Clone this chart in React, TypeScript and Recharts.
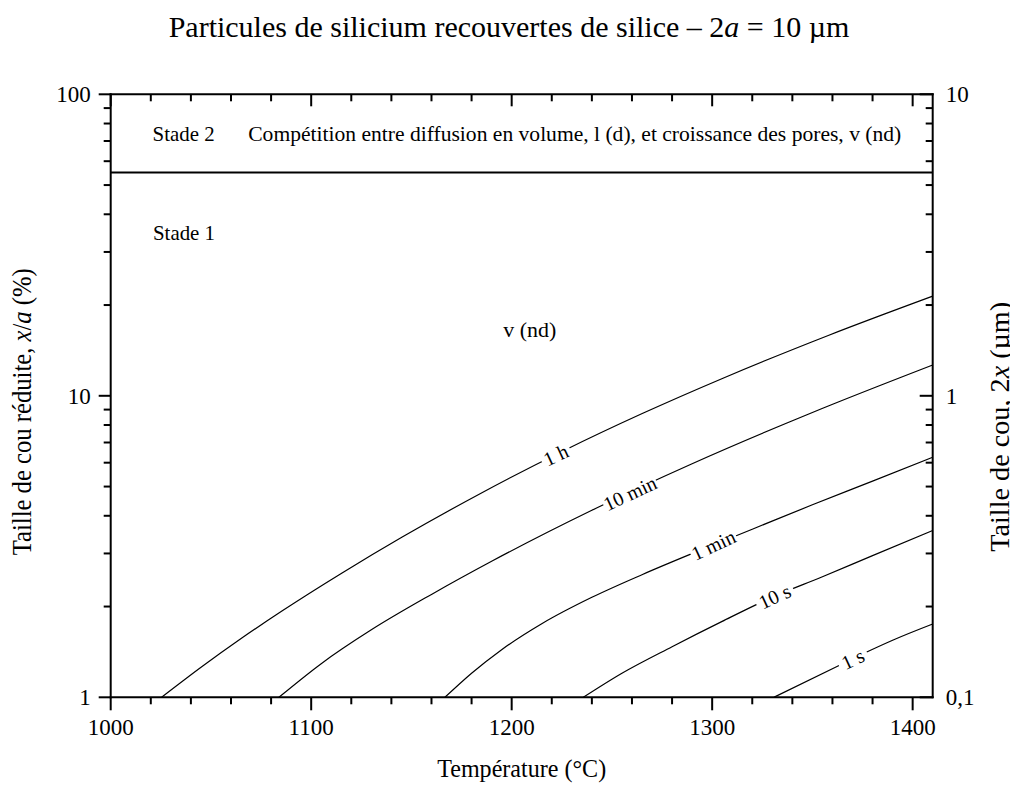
import React from "react";
import {
  LineChart,
  Line,
  XAxis,
  YAxis,
  ReferenceLine,
  ReferenceDot,
  Label,
} from "recharts";

const SERIF = '"Liberation Serif", "Times New Roman", serif';

// axis ticks
const xTicks = [
  1000, 1020, 1040, 1060, 1080, 1100, 1120, 1140, 1160, 1180, 1200, 1220,
  1240, 1260, 1280, 1300, 1320, 1340, 1360, 1380, 1400,
];
const leftTicks = [
  1, 2, 3, 4, 5, 6, 7, 8, 9, 10, 20, 30, 40, 50, 60, 70, 80, 90, 100,
];
const rightTicks = [
  0.1, 0.2, 0.3, 0.4, 0.5, 0.6, 0.7, 0.8, 0.9, 1, 2, 3, 4, 5, 6, 7, 8, 9, 10,
];
const majorLeft = [1, 10, 100];
const majorRight = [0.1, 1, 10];
const rightTickLabels: Record<string, string> = { "0.1": "0,1", "1": "1", "10": "10" };

// iso-time curves: temperature (°C) and reduced neck size x/a (%)
const temp1h = [1025.4, 1045.4, 1065.4, 1085.4, 1115.4, 1145.4, 1185.4, 1225.4, 1265.4, 1305.4, 1357.9, 1410];
const size1h = [1, 1.262, 1.572, 1.932, 2.584, 3.399, 4.78, 6.55, 8.75, 11.44, 15.85, 21.4];

const temp10min = [1083.9, 1105, 1130, 1160, 1190, 1240, 1290, 1350, 1410];
const size10min = [1, 1.293, 1.674, 2.194, 2.826, 4.173, 5.954, 8.804, 12.65];

const temp1min = [1166.7, 1180, 1195, 1215, 1240, 1265, 1290, 1320, 1350, 1380, 1410];
const size1min = [1, 1.202, 1.439, 1.754, 2.146, 2.551, 2.997, 3.61, 4.35, 5.21, 6.252];

const temp10s = [1235.7, 1255, 1280, 1305, 1330, 1355, 1380, 1410];
const size10s = [1, 1.202, 1.472, 1.786, 2.148, 2.512, 2.951, 3.573];

const temp1s = [1330.8, 1363.8, 1377.1, 1390.3, 1410];
const size1s = [1, 1.28, 1.413, 1.549, 1.75];

const curveNames = ["1 h", "10 min", "1 min", "10 s", "1 s"];
const curveTemps = [temp1h, temp10min, temp1min, temp10s, temp1s];
const curveSizes = [size1h, size10min, size1min, size10s, size1s];
const labelTemps = [1222, 1259, 1300.6, 1331.2, 1370.2];
const labelSizes = [6.36, 4.75, 3.2, 2.16, 1.34];

const stageLimit = 55;

const series = curveNames.map((name, i) => ({
  name,
  points: curveTemps[i].map((t, j) => ({ T: t, v: curveSizes[i][j] })),
}));

const axisStyle = { stroke: "#000", strokeWidth: 2, strokeLinecap: "square" as const };

const BottomTick = (props: any) => {
  const { x, y, payload } = props;
  const major = payload.value % 100 === 0;
  return (
    <g>
      <line x1={x} y1={y} x2={x} y2={y + (major ? 13 : 7)} stroke="#000" strokeWidth={2} />
      {major && (
        <text x={x} y={y + 38} textAnchor="middle" fontSize={23} fontFamily={SERIF} fill="#000">
          {payload.value}
        </text>
      )}
    </g>
  );
};

const TopTick = (props: any) => {
  const { x, y, payload } = props;
  const major = payload.value % 100 === 0;
  return <line x1={x} y1={y} x2={x} y2={y + (major ? 12 : 7)} stroke="#000" strokeWidth={2} />;
};

const LeftTick = (props: any) => {
  const { x, y, payload } = props;
  const major = majorLeft.includes(payload.value);
  return (
    <g>
      <line x1={x} y1={y} x2={x - (major ? 12 : 7)} y2={y} stroke="#000" strokeWidth={2} />
      {major && (
        <text x={x - 20} y={y + 8} textAnchor="end" fontSize={23} fontFamily={SERIF} fill="#000">
          {payload.value}
        </text>
      )}
    </g>
  );
};

const RightTick = (props: any) => {
  const { x, y, payload } = props;
  const major = majorRight.includes(payload.value);
  return (
    <g>
      <line x1={x} y1={y} x2={x - (major ? 13 : 7)} y2={y} stroke="#000" strokeWidth={2} />
      {major && (
        <text x={x + 13} y={y + 8} textAnchor="start" fontSize={23} fontFamily={SERIF} fill="#000">
          {rightTickLabels[String(payload.value)]}
        </text>
      )}
    </g>
  );
};

const note = (text: string, size: number, length?: number) => (p: any) => (
  <text
    x={p.cx}
    y={p.cy}
    fontSize={size}
    fontFamily={SERIF}
    fill="#000"
    textLength={length}
    lengthAdjust="spacingAndGlyphs"
  >
    {text}
  </text>
);

const curveLabel = (text: string) => (p: any) => {
  const w = text.length * 9 + 4;
  return (
    <g transform={`rotate(-25 ${p.cx} ${p.cy})`}>
      <rect x={p.cx - w / 2} y={p.cy - 7} width={w} height={14} fill="#fff" />
      <text
        x={p.cx}
        y={p.cy}
        textAnchor="middle"
        dominantBaseline="central"
        fontSize={20}
        fontFamily={SERIF}
        fill="#000"
      >
        {text}
      </text>
    </g>
  );
};

export default function App() {
  return (
    <div style={{ position: "relative", width: 1018, height: 787, margin: "-8px 0 0 -8px", background: "#fff" }}>
      <div
        style={{
          position: "absolute",
          left: 0,
          top: 12,
          width: 1018,
          textAlign: "center",
          fontFamily: SERIF,
          fontSize: 30,
          lineHeight: "30px",
        }}
      >
        Particules de silicium recouvertes de silice – 2<i>a</i> = 10 µm
      </div>
      <LineChart
        width={1018}
        height={787}
        margin={{ top: 84.3, right: 25.3, bottom: 29.7, left: 50.7 }}
      >
        <XAxis
          dataKey="T"
          type="number"
          domain={[1000, 1410]}
          allowDataOverflow
          ticks={xTicks}
          interval={0}
          height={60}
          tickSize={0}
          tickMargin={0}
          tick={<BottomTick />}
          axisLine={axisStyle}
        >
          <Label
            content={(p: any) => (
              <text
                x={p.viewBox.x + p.viewBox.width / 2}
                y={p.viewBox.y + 79.7}
                textAnchor="middle"
                fontSize={26}
                fontFamily={SERIF}
                textLength={169}
                lengthAdjust="spacingAndGlyphs"
              >
                Température (°C)
              </text>
            )}
          />
        </XAxis>
        <XAxis
          xAxisId="top"
          orientation="top"
          dataKey="T"
          type="number"
          domain={[1000, 1410]}
          allowDataOverflow
          ticks={xTicks}
          interval={0}
          height={10}
          tickSize={0}
          tickMargin={0}
          tick={<TopTick />}
          axisLine={axisStyle}
        />
        <YAxis
          type="number"
          scale="log"
          domain={[1, 100]}
          allowDataOverflow
          ticks={leftTicks}
          interval={0}
          width={60}
          tickSize={0}
          tickMargin={0}
          tick={<LeftTick />}
          axisLine={axisStyle}
        >
          <Label
            content={(p: any) => {
              const cx = p.viewBox.x - 20;
              const cy = p.viewBox.y + p.viewBox.height / 2 + 16;
              return (
                <text
                  x={cx}
                  y={cy}
                  transform={`rotate(-90 ${cx} ${cy})`}
                  textAnchor="middle"
                  fontSize={28}
                  fontFamily={SERIF}
                  textLength={287}
                  lengthAdjust="spacingAndGlyphs"
                >
                  Taille de cou réduite, <tspan fontStyle="italic">x</tspan>/<tspan fontStyle="italic">a</tspan> (%)
                </text>
              );
            }}
          />
        </YAxis>
        <YAxis
          yAxisId="right"
          orientation="right"
          type="number"
          scale="log"
          domain={[0.1, 10]}
          allowDataOverflow
          ticks={rightTicks}
          interval={0}
          width={60}
          tickSize={0}
          tickMargin={0}
          tick={<RightTick />}
          axisLine={axisStyle}
        >
          <Label
            content={(p: any) => {
              const cx = p.viewBox.x + 76;
              const cy = p.viewBox.y + p.viewBox.height / 2 + 31;
              return (
                <text
                  x={cx}
                  y={cy}
                  transform={`rotate(-90 ${cx} ${cy})`}
                  textAnchor="middle"
                  fontSize={28}
                  fontFamily={SERIF}
                  textLength={250}
                  lengthAdjust="spacingAndGlyphs"
                >
                  Taille de cou, 2<tspan fontStyle="italic">x</tspan> (µm)
                </text>
              );
            }}
          />
        </YAxis>

        <ReferenceLine y={stageLimit} stroke="#000" strokeWidth={2} />

        {series.map((s) => (
          <Line
            key={s.name}
            data={s.points}
            dataKey="v"
            type="monotone"
            stroke="#000"
            strokeWidth={1.2}
            dot={false}
            activeDot={false}
            isAnimationActive={false}
          />
        ))}

        {curveNames.map((name, i) => (
          <ReferenceDot
            key={name}
            x={labelTemps[i]}
            y={labelSizes[i]}
            r={0}
            shape={curveLabel(name)}
          />
        ))}

        <ReferenceDot x={1020.9} y={70} r={0} shape={note("Stade 2", 22, 62)} />
        <ReferenceDot
          x={1068.6}
          y={70}
          r={0}
          shape={note(
            "Compétition entre diffusion en volume, l (d), et croissance des pores, v (nd)",
            22,
            653
          )}
        />
        <ReferenceDot x={1021.1} y={32.9} r={0} shape={note("Stade 1", 22, 62)} />
        <ReferenceDot x={1195.8} y={15.7} r={0} shape={note("v (nd)", 22, 53)} />
      </LineChart>
    </div>
  );
}
